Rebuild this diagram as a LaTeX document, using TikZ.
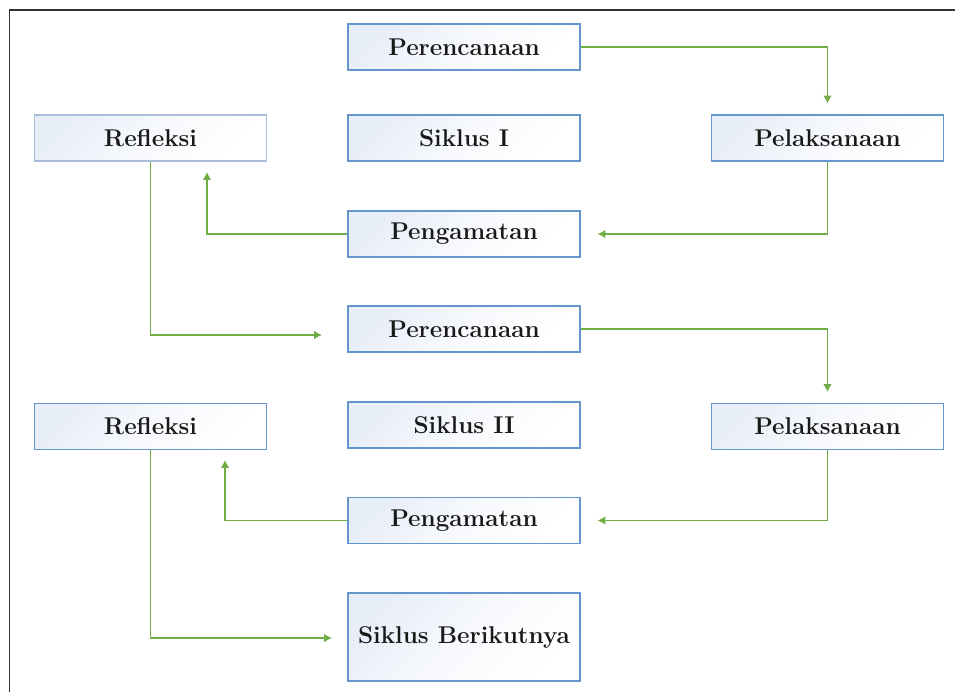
\documentclass[tikz,border=0pt]{standalone}
\usepackage{amsmath, amsfonts, amssymb}
\usetikzlibrary{arrows.meta}
\definecolor{flowgreen}{RGB}{112,173,71}
\definecolor{boxblue}{RGB}{100,150,205}
\definecolor{boxpale}{RGB}{170,190,220}
\definecolor{boxfill}{RGB}{232,238,248}

\begin{document}
\begin{tikzpicture}[
  stagebox/.style={draw=boxblue, line width=0.6pt,
    top color=boxfill, bottom color=white, middle color=white!65!boxfill, shading angle=45,
    minimum width=4.64cm, minimum height=0.92cm, inner sep=0pt, text=black!90,
    font=\fontsize{13.8}{16}\selectfont\bfseries},
  flow/.style={draw=flowgreen, line width=1.1pt, -{Latex[length=4.5pt,width=5pt]}}
]
\useasboundingbox (0,0) rectangle (19.1,-13.82);
\draw[line width=1.1pt, black!80] (0.19,-13.9) -- (0.19,-0.2) -- (19.2,-0.2);

% siklus I
\node[stagebox] (per1) at (9.28,-0.94) {Perencanaan};
\node[stagebox, draw=boxpale] (ref1) at (3.01,-2.76) {Refleksi};
\node[stagebox] (sik1) at (9.28,-2.76) {Siklus I};
\node[stagebox] (pel1) at (16.55,-2.76) {Pelaksanaan};
\node[stagebox] (pen1) at (9.28,-4.68) {Pengamatan};

% siklus II
\node[stagebox] (per2) at (9.28,-6.58) {Perencanaan};
\node[stagebox] (ref2) at (3.01,-8.53) {Refleksi};
\node[stagebox] (sik2) at (9.28,-8.50) {Siklus II};
\node[stagebox] (pel2) at (16.55,-8.53) {Pelaksanaan};
\node[stagebox] (pen2) at (9.28,-10.41) {Pengamatan};
\node[stagebox, minimum height=1.76cm] (next) at (9.28,-12.74) {Siklus Berikutnya};

\coordinate (up1) at (4.14,-3.44);
\coordinate (in2) at (6.44,-6.70);
\coordinate (up2) at (4.5,-9.2);
\coordinate (in3) at (6.64,-12.76);

\draw[flow, shorten >=0.22cm] (per1.east) -| (pel1.north);
\draw[flow, shorten >=0.34cm] (pel1.south) |- (pen1.east);
\draw[flow] (pen1.west) -| (up1);
\draw[flow] (ref1.south) |- (in2);

\draw[flow, shorten >=0.22cm] (per2.east) -| (pel2.north);
\draw[flow, shorten >=0.34cm] (pel2.south) |- (pen2.east);
\draw[flow] (pen2.west) -| (up2);
\draw[flow] (ref2.south) |- (in3);
\end{tikzpicture}
\end{document}
